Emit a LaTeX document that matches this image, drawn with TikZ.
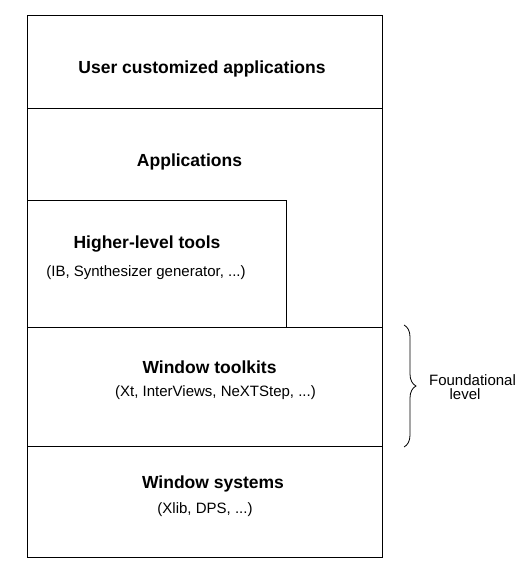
\documentclass[tikz,border=0pt]{standalone}
\usepackage{fontspec}
\setmainfont{Liberation Sans}
\usetikzlibrary{positioning, decorations.pathreplacing}

\begin{document}
\begin{tikzpicture}[x=1pt,y=-1pt,line width=0.8pt]
	\tikzstyle{layer title}=[font=\fontsize{17.5}{20}\selectfont\bfseries, inner sep=0pt, anchor=base]
	\tikzstyle{layer note}=[font=\fontsize{15}{17}\selectfont, inner sep=0pt, anchor=base]
	\useasboundingbox (0,0) rectangle (530,577);

	% layer frame
	\draw (27,15) rectangle (382,557);
	\draw (27,108) -- (382,108);
	\draw (27,327) -- (382,327);
	\draw (27,446) -- (382,446);
	\draw (27,200) -- (286,200) -- (286,327);

	\node[layer title] (U) at (202,74) {User customized applications};
	\node[layer title] (A) at (189.5,167) {Applications};
	\node[layer title] (H) at (147,248) {Higher-level tools};
	\node[layer note]  (Hn) at (146,276) {(IB, Synthesizer generator, ...)};
	\node[layer title] (T) at (209.5,373) {Window toolkits};
	\node[layer note]  (Tn) at (215.5,396) {(Xt, InterViews, NeXTStep, ...)};
	\node[layer title] (S) at (213,488) {Window systems};
	\node[layer note]  (Sn) at (205,513) {(Xlib, DPS, ...)};

	% foundational brace
	\coordinate (Bt) at (404,325);
	\coordinate (Bb) at (404,447);
	\draw[decorate,decoration={brace,amplitude=12pt}] (Bt) -- (Bb);
	\node[layer note] (F) at (472.5,385) {Foundational};
	\node[layer note] (L) at (465,399) {level};
\end{tikzpicture}
\end{document}
